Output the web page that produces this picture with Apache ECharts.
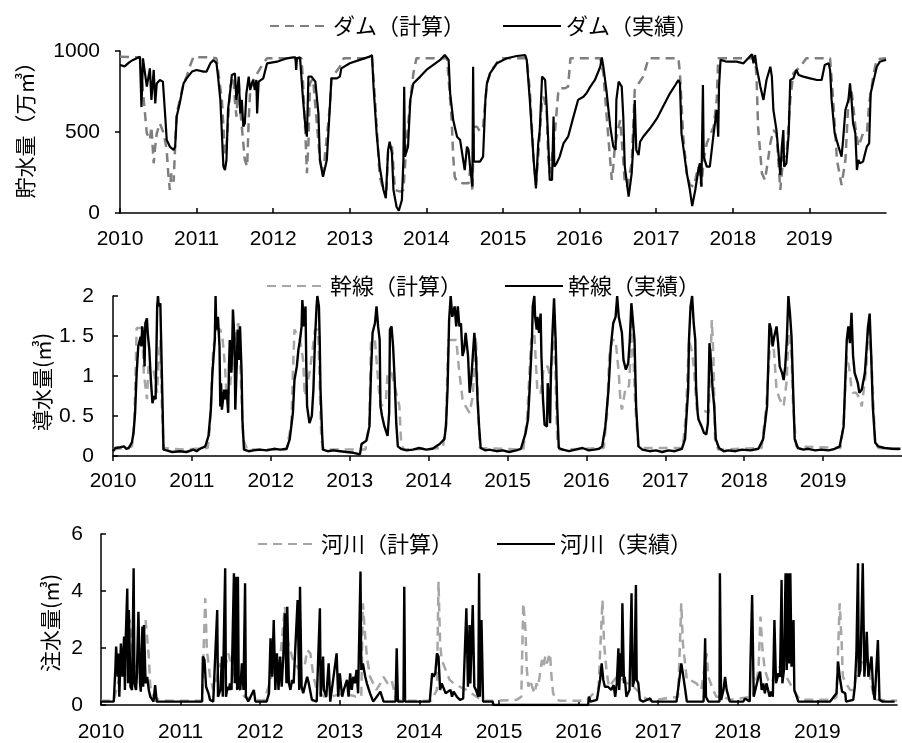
<!DOCTYPE html>
<html>
<head>
<meta charset="utf-8">
<title>ダム・幹線・河川</title>
<script src="https://cdn.jsdelivr.net/npm/echarts@6/dist/echarts.min.js"></script>
<style>
  html,body{margin:0;padding:0;background:#fff;}
  #chart{width:902px;height:743px;}
</style>
</head>
<body>
<div id="chart"></div>
<script>
// 年軸（2010〜2020）
var yearMin = 2010;
var yearMax = 2020;

// ダム貯水量（万m3）[年, 値]
var damCalc = [[2010.00,965],[2010.26,961],[2010.31,698],[2010.35,492],[2010.39,451],[2010.41,533],[2010.44,307],[2010.46,410],[2010.48,492],[2010.52,554],[2010.57,492],[2010.61,389],[2010.63,245],[2010.65,142],[2010.67,245],[2010.70,193],[2010.72,410],[2010.74,615],[2010.78,698],[2010.83,800],[2010.87,842],[2010.91,903],[2010.96,965],[2011.04,961],[2011.18,961],[2011.26,955],[2011.33,698],[2011.37,368],[2011.39,410],[2011.44,780],[2011.48,842],[2011.50,698],[2011.52,595],[2011.55,821],[2011.57,636],[2011.59,636],[2011.63,327],[2011.66,286],[2011.68,574],[2011.70,759],[2011.74,821],[2011.87,924],[2011.92,955],[2012.37,955],[2012.39,800],[2012.42,492],[2012.44,245],[2012.46,430],[2012.48,800],[2012.52,831],[2012.61,327],[2012.65,235],[2012.74,657],[2012.76,831],[2012.87,903],[2012.92,955],[2013.29,955],[2013.33,698],[2013.39,224],[2013.44,142],[2013.48,142],[2013.50,389],[2013.55,410],[2013.59,142],[2013.66,132],[2013.70,142],[2013.74,430],[2013.79,698],[2013.83,862],[2013.87,955],[2014.27,955],[2014.33,574],[2014.35,348],[2014.37,224],[2014.40,193],[2014.48,183],[2014.55,183],[2014.58,307],[2014.60,132],[2014.62,533],[2014.66,533],[2014.70,502],[2014.74,533],[2014.79,800],[2014.85,883],[2014.90,914],[2014.96,955],[2015.31,955],[2015.35,759],[2015.40,327],[2015.43,173],[2015.46,348],[2015.51,698],[2015.53,718],[2015.57,636],[2015.59,348],[2015.61,245],[2015.64,348],[2015.68,512],[2015.72,739],[2015.74,770],[2015.81,770],[2015.85,780],[2015.88,955],[2016.27,955],[2016.31,862],[2016.35,615],[2016.42,204],[2016.44,286],[2016.46,410],[2016.51,533],[2016.53,574],[2016.57,327],[2016.59,183],[2016.62,163],[2016.68,307],[2016.72,759],[2016.77,800],[2016.83,842],[2016.90,955],[2017.29,955],[2017.31,862],[2017.35,492],[2017.40,245],[2017.44,173],[2017.49,163],[2017.55,286],[2017.59,163],[2017.62,327],[2017.66,430],[2017.75,533],[2017.79,698],[2017.81,955],[2018.29,955],[2018.31,842],[2018.33,533],[2018.38,245],[2018.42,204],[2018.46,327],[2018.49,430],[2018.53,512],[2018.57,492],[2018.62,142],[2018.66,348],[2018.70,348],[2018.75,698],[2018.79,862],[2018.88,903],[2018.96,955],[2019.27,955],[2019.31,698],[2019.36,327],[2019.42,173],[2019.47,327],[2019.51,698],[2019.55,759],[2019.60,533],[2019.64,410],[2019.70,492],[2019.75,492],[2019.78,677],[2019.84,862],[2019.88,949],[2020.00,955]];

var damObs = [[2010.00,914],[2010.06,905],[2010.12,930],[2010.17,945],[2010.26,965],[2010.28,655],[2010.30,955],[2010.35,780],[2010.39,893],[2010.41,698],[2010.44,883],[2010.46,677],[2010.48,800],[2010.52,821],[2010.56,811],[2010.59,600],[2010.61,451],[2010.65,410],[2010.70,389],[2010.72,410],[2010.74,595],[2010.78,677],[2010.83,800],[2010.87,831],[2010.94,873],[2011.00,883],[2011.09,873],[2011.13,873],[2011.18,924],[2011.22,945],[2011.26,924],[2011.28,842],[2011.31,698],[2011.35,286],[2011.37,265],[2011.39,327],[2011.41,636],[2011.44,759],[2011.46,852],[2011.50,862],[2011.52,698],[2011.55,842],[2011.57,615],[2011.59,698],[2011.61,533],[2011.63,554],[2011.65,739],[2011.68,842],[2011.70,759],[2011.72,800],[2011.74,821],[2011.76,759],[2011.78,821],[2011.79,615],[2011.81,811],[2011.87,831],[2011.92,924],[2012.05,934],[2012.18,955],[2012.26,961],[2012.29,961],[2012.30,883],[2012.31,955],[2012.35,961],[2012.37,955],[2012.39,698],[2012.42,533],[2012.44,471],[2012.46,842],[2012.50,842],[2012.55,811],[2012.59,615],[2012.61,327],[2012.65,224],[2012.70,327],[2012.74,657],[2012.76,831],[2012.83,831],[2012.87,842],[2012.89,893],[2013.00,924],[2013.13,945],[2013.26,965],[2013.29,975],[2013.31,780],[2013.35,492],[2013.39,286],[2013.44,142],[2013.47,91],[2013.50,389],[2013.52,440],[2013.55,368],[2013.57,142],[2013.61,39],[2013.64,14],[2013.68,80],[2013.70,327],[2013.71,780],[2013.72,348],[2013.76,410],[2013.79,698],[2013.83,800],[2013.92,842],[2014.00,883],[2014.09,914],[2014.18,945],[2014.24,975],[2014.29,945],[2014.31,739],[2014.35,574],[2014.40,471],[2014.44,451],[2014.48,327],[2014.50,265],[2014.53,410],[2014.55,389],[2014.57,286],[2014.60,163],[2014.61,903],[2014.62,317],[2014.70,317],[2014.74,348],[2014.77,698],[2014.79,800],[2014.83,862],[2014.92,924],[2015.05,955],[2015.18,969],[2015.29,975],[2015.31,945],[2015.35,698],[2015.40,327],[2015.43,152],[2015.46,430],[2015.48,512],[2015.51,842],[2015.55,821],[2015.57,657],[2015.59,451],[2015.61,204],[2015.64,204],[2015.66,595],[2015.67,286],[2015.70,307],[2015.74,348],[2015.79,430],[2015.85,471],[2015.92,595],[2015.98,698],[2016.05,718],[2016.09,739],[2016.14,780],[2016.20,821],[2016.27,903],[2016.29,961],[2016.31,903],[2016.35,759],[2016.40,533],[2016.44,410],[2016.47,389],[2016.48,698],[2016.51,811],[2016.55,780],[2016.57,595],[2016.59,286],[2016.64,101],[2016.66,111],[2016.68,245],[2016.70,410],[2016.72,698],[2016.74,389],[2016.77,358],[2016.79,440],[2016.83,471],[2016.92,523],[2017.01,584],[2017.09,657],[2017.18,739],[2017.25,790],[2017.29,821],[2017.31,800],[2017.33,492],[2017.40,245],[2017.44,142],[2017.47,43],[2017.51,142],[2017.55,265],[2017.57,307],[2017.59,163],[2017.61,790],[2017.62,348],[2017.66,286],[2017.70,286],[2017.75,492],[2017.79,636],[2017.81,471],[2017.82,780],[2017.84,945],[2017.92,934],[2018.05,934],[2018.14,924],[2018.20,955],[2018.25,980],[2018.27,924],[2018.29,975],[2018.31,903],[2018.36,780],[2018.40,698],[2018.44,821],[2018.49,903],[2018.51,842],[2018.53,636],[2018.57,512],[2018.62,235],[2018.64,410],[2018.66,512],[2018.67,286],[2018.70,307],[2018.73,492],[2018.75,821],[2018.79,831],[2018.83,883],[2018.86,852],[2018.92,842],[2019.01,831],[2019.10,821],[2019.16,821],[2019.20,914],[2019.25,924],[2019.27,883],[2019.29,698],[2019.33,492],[2019.38,410],[2019.42,348],[2019.44,451],[2019.47,636],[2019.51,698],[2019.53,800],[2019.55,698],[2019.57,554],[2019.60,492],[2019.62,265],[2019.64,327],[2019.66,307],[2019.70,317],[2019.75,410],[2019.78,430],[2019.80,739],[2019.84,821],[2019.88,903],[2019.92,934],[2019.97,941],[2020.00,945]];

// 幹線導水量（m3/s）
var mainCalc = [[2010.00,0.08],[2010.14,0.10],[2010.24,0.12],[2010.27,0.40],[2010.30,1.60],[2010.37,1.60],[2010.39,1.04],[2010.43,0.71],[2010.45,1.12],[2010.51,1.10],[2010.56,0.79],[2010.58,1.25],[2010.60,1.45],[2010.62,0.60],[2010.64,0.10],[2010.90,0.08],[2011.20,0.10],[2011.23,0.37],[2011.27,1.33],[2011.31,1.58],[2011.36,1.58],[2011.39,1.45],[2011.42,1.12],[2011.44,0.71],[2011.48,0.83],[2011.52,1.25],[2011.57,1.62],[2011.59,1.66],[2011.61,1.25],[2011.65,0.21],[2011.70,0.08],[2012.20,0.08],[2012.26,0.40],[2012.28,1.04],[2012.30,1.58],[2012.37,1.45],[2012.41,1.20],[2012.43,0.75],[2012.45,0.83],[2012.49,1.04],[2012.52,1.25],[2012.56,1.58],[2012.60,1.58],[2012.64,0.21],[2012.67,0.08],[2013.20,0.08],[2013.25,0.40],[2013.27,1.45],[2013.32,1.45],[2013.36,0.95],[2013.38,0.71],[2013.40,0.62],[2013.46,0.71],[2013.48,1.04],[2013.53,1.04],[2013.55,1.04],[2013.59,0.79],[2013.63,0.62],[2013.65,0.21],[2013.68,0.08],[2014.18,0.10],[2014.22,0.40],[2014.25,1.45],[2014.35,1.45],[2014.39,1.04],[2014.43,0.71],[2014.47,0.62],[2014.52,0.54],[2014.56,0.75],[2014.60,1.49],[2014.63,0.50],[2014.65,0.10],[2015.20,0.08],[2015.25,0.50],[2015.30,1.45],[2015.34,1.54],[2015.38,0.79],[2015.42,0.79],[2015.46,1.12],[2015.51,1.12],[2015.55,0.95],[2015.59,1.66],[2015.63,0.21],[2015.66,0.08],[2016.22,0.10],[2016.26,0.50],[2016.29,1.25],[2016.33,1.45],[2016.37,1.45],[2016.41,1.04],[2016.43,0.71],[2016.45,0.58],[2016.50,0.87],[2016.54,0.87],[2016.58,1.66],[2016.62,0.62],[2016.66,0.10],[2017.22,0.10],[2017.26,0.50],[2017.30,1.45],[2017.34,1.29],[2017.36,1.12],[2017.40,0.58],[2017.46,0.58],[2017.55,0.54],[2017.59,1.70],[2017.61,1.25],[2017.63,0.21],[2017.67,0.08],[2018.22,0.10],[2018.28,0.62],[2018.33,1.45],[2018.37,1.41],[2018.41,0.83],[2018.45,0.71],[2018.50,0.62],[2018.54,0.95],[2018.56,1.54],[2018.60,1.25],[2018.62,0.62],[2018.66,0.12],[2019.22,0.10],[2019.26,0.40],[2019.30,1.25],[2019.34,1.04],[2019.36,0.83],[2019.38,0.79],[2019.42,0.79],[2019.47,0.71],[2019.49,0.62],[2019.55,1.12],[2019.57,1.66],[2019.61,1.25],[2019.66,0.17],[2019.70,0.10],[2020.00,0.08]];

var mainObs = [[2010.00,0.06],[2010.03,0.10],[2010.05,0.08],[2010.09,0.11],[2010.14,0.12],[2010.17,0.09],[2010.20,0.10],[2010.24,0.17],[2010.26,0.29],[2010.28,0.54],[2010.30,1.04],[2010.32,1.37],[2010.35,1.49],[2010.36,1.37],[2010.37,1.62],[2010.39,1.45],[2010.40,1.12],[2010.41,1.66],[2010.43,1.72],[2010.44,1.54],[2010.46,1.33],[2010.48,0.95],[2010.50,0.66],[2010.52,0.75],[2010.54,0.71],[2010.56,1.87],[2010.57,2.0],[2010.58,1.87],[2010.60,1.91],[2010.61,1.45],[2010.63,0.54],[2010.64,0.08],[2010.68,0.07],[2010.75,0.05],[2010.85,0.06],[2010.93,0.05],[2011.02,0.08],[2011.06,0.06],[2011.10,0.09],[2011.17,0.12],[2011.21,0.25],[2011.24,0.58],[2011.26,1.04],[2011.29,1.45],[2011.30,2.0],[2011.31,1.58],[2011.33,1.74],[2011.35,1.37],[2011.36,0.62],[2011.37,0.91],[2011.38,0.58],[2011.40,0.75],[2011.41,0.83],[2011.42,0.71],[2011.44,0.83],[2011.46,0.54],[2011.47,1.12],[2011.48,1.45],[2011.50,1.04],[2011.51,1.33],[2011.52,1.83],[2011.54,1.45],[2011.55,0.58],[2011.57,1.20],[2011.58,1.58],[2011.60,1.20],[2011.61,1.62],[2011.63,1.04],[2011.64,0.46],[2011.66,0.08],[2011.72,0.06],[2011.78,0.07],[2011.86,0.08],[2011.95,0.07],[2012.04,0.09],[2012.12,0.08],[2012.20,0.09],[2012.24,0.21],[2012.28,0.54],[2012.30,0.95],[2012.33,1.12],[2012.35,1.33],[2012.37,1.45],[2012.39,1.62],[2012.40,1.95],[2012.42,1.62],[2012.44,1.87],[2012.45,1.12],[2012.46,0.62],[2012.49,0.41],[2012.52,0.50],[2012.54,0.83],[2012.56,1.45],[2012.58,1.87],[2012.59,2.0],[2012.61,1.87],[2012.62,1.45],[2012.63,0.83],[2012.65,0.29],[2012.66,0.08],[2012.72,0.06],[2012.79,0.07],[2012.88,0.06],[2012.96,0.05],[2013.05,0.04],[2013.13,0.02],[2013.15,0.15],[2013.21,0.19],[2013.25,0.37],[2013.27,1.04],[2013.29,1.54],[2013.32,1.66],[2013.34,1.87],[2013.36,1.62],[2013.38,1.45],[2013.39,0.62],[2013.41,0.50],[2013.44,0.37],[2013.48,0.25],[2013.50,0.54],[2013.51,1.58],[2013.53,1.62],[2013.55,1.37],[2013.57,0.95],[2013.59,0.41],[2013.61,0.12],[2013.65,0.09],[2013.72,0.07],[2013.80,0.08],[2013.88,0.10],[2013.97,0.08],[2014.05,0.09],[2014.14,0.15],[2014.20,0.21],[2014.22,0.37],[2014.24,0.83],[2014.26,1.70],[2014.28,2.0],[2014.30,1.74],[2014.33,1.87],[2014.35,1.62],[2014.37,1.87],[2014.39,1.62],[2014.41,1.66],[2014.43,1.25],[2014.45,1.33],[2014.47,1.54],[2014.50,1.25],[2014.52,0.79],[2014.54,0.95],[2014.56,1.25],[2014.58,1.54],[2014.60,1.25],[2014.62,0.71],[2014.64,0.37],[2014.66,0.10],[2014.72,0.07],[2014.77,0.08],[2014.86,0.06],[2014.94,0.07],[2015.02,0.05],[2015.11,0.07],[2015.17,0.09],[2015.23,0.29],[2015.26,0.46],[2015.28,0.83],[2015.31,1.45],[2015.32,1.87],[2015.34,2.0],[2015.35,1.74],[2015.37,1.58],[2015.38,1.74],[2015.40,1.54],[2015.42,1.78],[2015.43,1.25],[2015.45,0.71],[2015.47,0.39],[2015.50,0.37],[2015.51,0.91],[2015.53,0.62],[2015.54,0.41],[2015.55,1.04],[2015.57,1.54],[2015.59,1.97],[2015.61,1.45],[2015.63,0.62],[2015.65,0.10],[2015.70,0.08],[2015.78,0.06],[2015.86,0.08],[2015.95,0.10],[2016.03,0.07],[2016.10,0.08],[2016.16,0.09],[2016.20,0.12],[2016.24,0.37],[2016.28,0.83],[2016.31,1.37],[2016.34,1.66],[2016.37,1.74],[2016.39,2.0],[2016.41,1.74],[2016.45,1.54],[2016.47,1.20],[2016.50,1.08],[2016.53,1.16],[2016.55,1.45],[2016.57,1.91],[2016.59,1.91],[2016.61,1.45],[2016.63,0.62],[2016.66,0.12],[2016.71,0.08],[2016.80,0.06],[2016.88,0.07],[2016.96,0.05],[2017.04,0.07],[2017.12,0.06],[2017.21,0.09],[2017.25,0.21],[2017.29,0.83],[2017.30,1.45],[2017.32,1.87],[2017.34,2.0],[2017.36,1.66],[2017.38,1.45],[2017.39,0.87],[2017.41,0.54],[2017.42,0.46],[2017.46,0.37],[2017.49,0.29],[2017.52,0.27],[2017.54,0.41],[2017.56,1.41],[2017.58,1.16],[2017.60,0.83],[2017.62,0.62],[2017.64,0.21],[2017.68,0.10],[2017.74,0.06],[2017.80,0.07],[2017.89,0.06],[2017.97,0.08],[2018.08,0.07],[2018.18,0.09],[2018.24,0.21],[2018.29,0.62],[2018.32,1.66],[2018.34,1.58],[2018.36,1.37],[2018.38,1.49],[2018.41,1.62],[2018.43,1.41],[2018.45,1.12],[2018.48,1.04],[2018.50,0.95],[2018.52,1.12],[2018.54,1.45],[2018.56,2.0],[2018.58,1.78],[2018.60,1.49],[2018.62,0.83],[2018.64,0.21],[2018.68,0.10],[2018.75,0.08],[2018.81,0.09],[2018.90,0.07],[2018.98,0.08],[2019.07,0.07],[2019.15,0.09],[2019.21,0.12],[2019.26,0.37],[2019.30,1.45],[2019.32,1.62],[2019.34,1.41],[2019.36,1.79],[2019.38,1.25],[2019.40,1.04],[2019.44,0.91],[2019.46,0.79],[2019.49,0.83],[2019.53,1.04],[2019.55,1.33],[2019.57,1.62],[2019.59,1.78],[2019.61,1.25],[2019.63,0.62],[2019.66,0.17],[2019.70,0.12],[2019.78,0.10],[2019.87,0.09],[2019.98,0.09]];

// 河川注水量（m3/s）
var riverCalc = [[2010.00,0.15],[2010.16,0.15],[2010.20,0.6],[2010.25,1.2],[2010.30,2.3],[2010.33,2.5],[2010.36,3.0],[2010.40,1.8],[2010.44,1.0],[2010.48,1.4],[2010.52,2.2],[2010.56,2.98],[2010.60,1.70],[2010.62,0.64],[2010.66,0.29],[2010.70,0.23],[2010.75,0.15],[2011.27,0.15],[2011.29,2.0],[2011.31,3.74],[2011.33,1.93],[2011.37,0.99],[2011.41,0.53],[2011.46,1.0],[2011.50,1.46],[2011.55,1.2],[2011.60,1.81],[2011.66,1.2],[2011.70,0.80],[2011.75,0.53],[2011.80,0.30],[2011.90,0.20],[2012.05,0.15],[2012.10,0.6],[2012.15,1.1],[2012.25,1.6],[2012.31,3.45],[2012.35,2.2],[2012.42,1.5],[2012.50,1.2],[2012.56,1.40],[2012.59,1.93],[2012.63,1.81],[2012.67,0.99],[2012.71,0.53],[2012.80,0.30],[2012.88,0.29],[2013.05,0.41],[2013.20,0.30],[2013.27,0.30],[2013.29,3.57],[2013.31,2.75],[2013.34,1.70],[2013.38,0.99],[2013.42,0.76],[2013.46,0.53],[2013.51,0.76],[2013.55,0.99],[2013.60,0.76],[2013.65,0.88],[2013.70,0.29],[2013.75,0.15],[2014.15,0.15],[2014.22,0.53],[2014.24,4.33],[2014.26,2.16],[2014.28,1.58],[2014.38,0.88],[2014.43,0.76],[2014.51,0.64],[2014.59,0.53],[2014.72,0.29],[2014.80,0.15],[2014.97,0.15],[2015.22,0.18],[2015.28,0.29],[2015.305,3.57],[2015.33,2.75],[2015.35,1.23],[2015.37,0.64],[2015.39,0.88],[2015.43,0.53],[2015.45,0.41],[2015.47,0.76],[2015.49,0.64],[2015.51,0.99],[2015.54,1.58],[2015.56,1.35],[2015.58,1.70],[2015.60,1.46],[2015.64,1.81],[2015.66,0.99],[2015.68,0.41],[2015.72,0.18],[2015.77,0.15],[2016.10,0.15],[2016.25,0.60],[2016.30,3.68],[2016.32,2.16],[2016.35,1.23],[2016.38,0.64],[2016.48,0.99],[2016.52,0.99],[2016.60,0.76],[2016.64,0.76],[2016.73,0.53],[2016.81,0.29],[2016.90,0.15],[2017.25,0.29],[2017.29,3.57],[2017.31,2.16],[2017.36,0.88],[2017.40,0.88],[2017.48,0.76],[2017.54,0.53],[2017.61,1.81],[2017.63,0.99],[2017.69,0.53],[2017.73,0.29],[2017.82,0.29],[2017.90,0.18],[2018.19,0.29],[2018.26,1.23],[2018.285,3.10],[2018.31,1.93],[2018.34,1.23],[2018.38,0.88],[2018.42,0.76],[2018.46,0.99],[2018.53,1.35],[2018.61,0.99],[2018.70,0.53],[2018.78,0.18],[2019.20,0.18],[2019.24,0.29],[2019.28,3.57],[2019.305,2.16],[2019.32,0.99],[2019.36,0.76],[2019.41,0.53],[2019.45,0.53],[2019.49,0.99],[2019.57,1.58],[2019.62,1.70],[2019.66,0.99],[2019.70,0.41],[2019.74,0.18],[2020.00,0.15]];

var riverObs = [[2010.00,0.12],[2010.16,0.12],[2010.18,1.23],[2010.19,2.05],[2010.21,0.99],[2010.22,1.81],[2010.23,0.29],[2010.25,2.16],[2010.27,0.99],[2010.29,2.40],[2010.30,0.53],[2010.31,2.28],[2010.33,4.09],[2010.34,0.76],[2010.35,3.33],[2010.37,0.64],[2010.39,0.53],[2010.41,4.80],[2010.42,0.76],[2010.44,0.53],[2010.45,0.99],[2010.47,3.27],[2010.49,0.76],[2010.50,0.47],[2010.52,2.75],[2010.53,0.64],[2010.54,2.81],[2010.56,0.76],[2010.58,0.99],[2010.60,0.53],[2010.62,0.29],[2010.66,0.12],[2010.68,0.70],[2010.70,0.12],[2011.27,0.12],[2011.28,1.70],[2011.30,1.58],[2011.32,0.64],[2011.35,0.41],[2011.37,0.18],[2011.41,0.12],[2011.46,3.33],[2011.47,0.29],[2011.50,0.53],[2011.52,1.70],[2011.53,0.29],[2011.55,3.33],[2011.56,4.80],[2011.57,0.29],[2011.59,0.64],[2011.61,0.53],[2011.62,0.76],[2011.64,0.53],[2011.67,4.62],[2011.68,0.76],[2011.70,4.50],[2011.71,0.53],[2011.72,4.50],[2011.73,0.64],[2011.75,0.53],[2011.77,1.46],[2011.79,0.53],[2011.81,4.27],[2011.82,0.29],[2011.85,0.12],[2011.92,0.53],[2011.94,0.12],[2012.08,0.12],[2012.11,0.41],[2012.13,2.34],[2012.15,0.99],[2012.17,2.98],[2012.19,0.53],[2012.21,1.81],[2012.23,0.53],[2012.25,1.70],[2012.27,0.64],[2012.29,1.70],[2012.31,3.22],[2012.33,0.76],[2012.34,3.45],[2012.36,0.76],[2012.38,0.53],[2012.40,0.88],[2012.42,0.76],[2012.44,0.76],[2012.47,3.68],[2012.49,0.53],[2012.50,4.15],[2012.52,0.64],[2012.54,0.41],[2012.57,0.76],[2012.59,0.99],[2012.61,0.76],[2012.65,0.18],[2012.71,0.12],[2012.75,3.39],[2012.76,0.29],[2012.79,1.70],[2012.80,0.53],[2012.83,0.29],[2012.86,1.46],[2012.88,0.12],[2012.96,1.81],[2012.98,0.29],[2013.00,1.11],[2013.03,0.29],[2013.05,0.53],[2013.09,0.88],[2013.11,0.29],[2013.13,1.11],[2013.15,0.53],[2013.17,0.99],[2013.19,0.76],[2013.21,1.23],[2013.23,0.41],[2013.26,4.68],[2013.27,1.23],[2013.29,1.46],[2013.32,0.99],[2013.34,0.76],[2013.38,0.41],[2013.42,0.12],[2013.51,0.47],[2013.53,0.29],[2013.55,0.12],[2013.70,0.12],[2013.715,1.99],[2013.73,0.12],[2013.80,0.12],[2013.81,4.15],[2013.82,0.12],[2014.13,0.12],[2014.16,1.11],[2014.18,0.99],[2014.20,1.11],[2014.22,1.81],[2014.24,1.70],[2014.26,0.53],[2014.28,0.76],[2014.33,0.41],[2014.39,0.53],[2014.41,0.29],[2014.43,0.47],[2014.47,0.29],[2014.51,0.18],[2014.55,0.23],[2014.59,3.39],[2014.61,0.64],[2014.63,2.81],[2014.64,0.76],[2014.67,3.51],[2014.69,0.64],[2014.71,0.53],[2014.74,0.29],[2014.75,4.62],[2014.76,0.29],[2014.78,2.98],[2014.80,0.12],[2014.92,0.12],[2014.93,0],[2016.12,0],[2016.13,0.29],[2016.15,0.12],[2016.23,0.18],[2016.27,0.88],[2016.29,1.46],[2016.31,0.88],[2016.33,0.64],[2016.37,0.64],[2016.41,0.53],[2016.44,0.70],[2016.46,0.29],[2016.48,0.76],[2016.50,1.99],[2016.51,0.53],[2016.53,1.81],[2016.54,0.99],[2016.55,3.57],[2016.57,0.76],[2016.58,0.99],[2016.60,0.29],[2016.64,0.53],[2016.665,3.92],[2016.68,0.64],[2016.70,0.88],[2016.72,4.21],[2016.73,0.88],[2016.75,0.76],[2016.77,0.18],[2016.81,0.12],[2016.90,0.23],[2016.92,0.12],[2017.23,0.12],[2017.27,0.99],[2017.29,1.46],[2017.31,1.11],[2017.34,0.53],[2017.36,0.12],[2017.57,0.12],[2017.59,2.34],[2017.60,0.29],[2017.63,0.12],[2017.77,0.12],[2017.775,4.62],[2017.79,0.18],[2017.82,0.53],[2017.84,0.99],[2017.86,0.53],[2017.90,0.12],[2018.07,0.12],[2018.09,0.23],[2018.15,0.12],[2018.16,1.58],[2018.18,3.86],[2018.20,0.29],[2018.23,0.64],[2018.26,0.99],[2018.28,1.17],[2018.30,0.53],[2018.32,0.76],[2018.34,0.41],[2018.36,0.76],[2018.38,0.53],[2018.40,0.29],[2018.42,0.47],[2018.44,0.29],[2018.46,2.98],[2018.48,0.76],[2018.51,1.11],[2018.53,0.99],[2018.55,4.39],[2018.56,0.76],[2018.58,1.23],[2018.60,4.62],[2018.615,1.23],[2018.63,4.62],[2018.645,1.46],[2018.66,4.62],[2018.675,1.34],[2018.70,2.98],[2018.71,0.53],[2018.74,0.29],[2018.76,0.12],[2019.16,0.12],[2019.24,0.41],[2019.26,1.52],[2019.28,0.99],[2019.31,0.47],[2019.35,0.41],[2019.36,0.12],[2019.45,0.18],[2019.47,0.64],[2019.49,1.81],[2019.51,4.97],[2019.52,0.99],[2019.54,1.23],[2019.57,4.97],[2019.59,0.99],[2019.61,1.93],[2019.62,2.57],[2019.64,0.99],[2019.66,1.34],[2019.68,1.70],[2019.70,0.53],[2019.72,0.18],[2019.76,2.28],[2019.78,0.18],[2019.82,0.12],[2019.97,0.12]];

// 凡例名・軸名
var seriesNames = ['ダム（計算）','ダム（実績）','幹線（計算）','幹線（実績）','河川（計算）','河川（実績）'];
var axisNames = ['貯水量（万㎥）','導水量(㎥)','注水量(㎥)'];
var yMax = [1000, 2, 6];
var yStep = [500, 0.5, 2];

var numFont = '"Liberation Sans",Arial,sans-serif';
var jpFont = '"Noto Sans CJK JP",sans-serif';

var chart = echarts.init(document.getElementById('chart'), null, {renderer:'canvas'});

// 各段のx軸
function makeX(idx, tickInside, margin){
  return {
    type:'value', gridIndex:idx, min:yearMin, max:yearMax, interval:1,
    axisLine:{show:true, onZero:false, lineStyle:{color:'#000', width:1.5}},
    axisTick:{show:true, inside:tickInside, length:5, lineStyle:{color:'#000', width:1.5}},
    axisLabel:{color:'#000', fontFamily:numFont, fontSize:21, margin:margin, showMaxLabel:false,
      formatter:function(v){ return String(v); }},
    splitLine:{show:false}
  };
}
// 各段のy軸
function makeY(idx, tickInside, margin){
  return {
    type:'value', gridIndex:idx, min:0, max:yMax[idx], interval:yStep[idx],
    axisLine:{show:true, lineStyle:{color:'#000', width:1.5}},
    axisTick:{show:true, inside:tickInside, length:5, lineStyle:{color:'#000', width:1.5}},
    axisLabel:{color:'#000', fontFamily:numFont, fontSize:21, margin:margin,
      formatter:function(v){ return String(v).replace('.', '. '); }},
    splitLine:{show:false}
  };
}
function line(name, idx, data, color, dashed, width){
  return {
    name:name, type:'line', xAxisIndex:idx, yAxisIndex:idx, data:data,
    showSymbol:false, symbol:'none', clip:true,
    lineStyle:{color:color, width:width, type: dashed ? [9,6] : 'solid'},
    itemStyle:{color:color},
    emphasis:{disabled:true}
  };
}
// 凡例は線のみ（記号は透明）
function legendAt(name, left, top){
  return {
    data:[name], left:left, top:top, itemWidth:58, itemHeight:20,
    itemStyle:{opacity:0},
    textStyle:{color:'#000', fontFamily:jpFont, fontSize:22},
    selectedMode:false
  };
}
function yName(text, x, y){
  return {
    type:'text', x:x, y:y, rotation:Math.PI/2,
    style:{text:text, fill:'#000', font:'21px "Noto Sans CJK JP", sans-serif', align:'center', verticalAlign:'middle'}
  };
}

var option = {
  animation:false,
  backgroundColor:'#fff',
  grid:[
    {left:120, top:51, width:766, height:162},
    {left:113, top:296, width:789, height:160},
    {left:101, top:534, width:796, height:171}
  ],
  xAxis:[makeX(0, true, 16), makeX(1, false, 15), makeX(2, true, 17)],
  yAxis:[makeY(0, false, 20), makeY(1, true, 19), makeY(2, true, 18)],
  legend:[
    legendAt(seriesNames[0], 264, 10),
    legendAt(seriesNames[1], 497, 10),
    legendAt(seriesNames[2], 261, 270),
    legendAt(seriesNames[3], 499, 270),
    legendAt(seriesNames[4], 252, 528),
    legendAt(seriesNames[5], 491, 528)
  ],
  graphic:[
    yName(axisNames[0], 25, 125),
    yName(axisNames[1], 42, 382),
    yName(axisNames[2], 50, 623)
  ],
  series:[
    line(seriesNames[0], 0, damCalc, '#7f7f7f', true, 2.5),
    line(seriesNames[1], 0, damObs, '#000', false, 2.2),
    line(seriesNames[2], 1, mainCalc, '#a6a6a6', true, 2.5),
    line(seriesNames[3], 1, mainObs, '#000', false, 2.4),
    line(seriesNames[4], 2, riverCalc, '#a6a6a6', true, 2.5),
    line(seriesNames[5], 2, riverObs, '#000', false, 2.4)
  ]
};
chart.setOption(option);
</script>
</body>
</html>
